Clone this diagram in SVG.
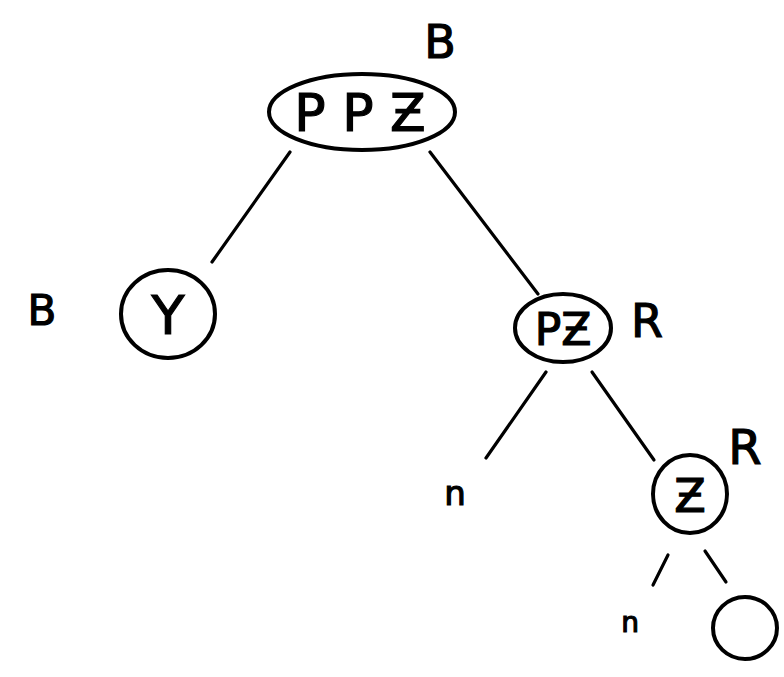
<svg xmlns="http://www.w3.org/2000/svg" width="784" height="677" viewBox="0 0 784 677">
<style>
.n{fill:none;stroke:#000;stroke-width:4}
.e{stroke:#000;stroke-width:3.2;stroke-linecap:round;fill:none}
.t{font-family:"DejaVu Sans",sans-serif;fill:#000;stroke:#000;stroke-width:1.2;text-anchor:middle}
</style>
<rect width="784" height="677" fill="#fff"/>
<g id="connectors">
<line class="e" x1="290" y1="152" x2="212" y2="262"/>
<line class="e" x1="430" y1="152" x2="538" y2="294"/>
<line class="e" x1="546" y1="372" x2="486" y2="458"/>
<line class="e" x1="592" y1="372" x2="654" y2="460"/>
<line class="e" x1="668" y1="555" x2="653" y2="585"/>
<line class="e" x1="705" y1="551" x2="726" y2="582"/>
</g>
<g id="root">
<ellipse class="n" cx="362" cy="112" rx="93" ry="38"/>
<text class="t" x="360" y="131" font-size="52">P P Ƶ</text>
<text class="t" x="440" y="58" font-size="46">B</text>
</g>
<g id="nodeY">
<ellipse class="n" cx="168" cy="314" rx="47" ry="44"/>
<text class="t" x="168" y="334" font-size="54">Y</text>
<text class="t" x="42" y="325" font-size="42">B</text>
</g>
<g id="nodePZ">
<ellipse class="n" cx="563" cy="328" rx="48" ry="34"/>
<text class="t" x="563" y="345" font-size="44">PƵ</text>
<text class="t" x="647" y="337" font-size="46">R</text>
</g>
<g id="leafN1">
<text class="t" x="455" y="505" font-size="34">n</text>
</g>
<g id="nodeZ">
<ellipse class="n" cx="690" cy="494" rx="37" ry="39"/>
<text class="t" x="690" y="512" font-size="46">Ƶ</text>
<text class="t" x="745" y="464" font-size="48">R</text>
</g>
<g id="leafN2">
<text class="t" x="630" y="632" font-size="28">n</text>
</g>
<g id="leafEmpty">
<ellipse class="n" cx="745" cy="628" rx="32" ry="31"/>
</g>
</svg>
